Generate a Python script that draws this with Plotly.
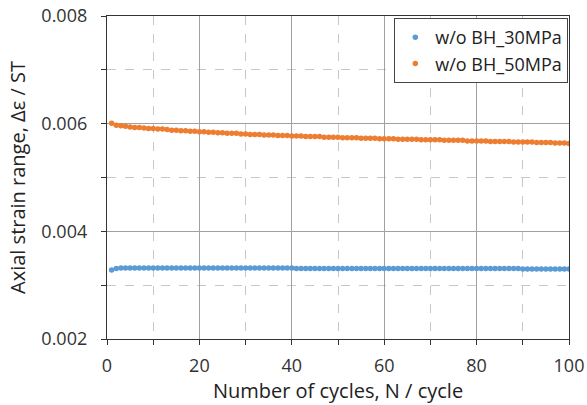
import plotly.graph_objects as go

cycles = list(range(1, 101))

strain_30mpa = [
    0.00328, 0.00331, 0.00332, 0.00332, 0.00332, 0.00332, 0.00332, 0.00332, 0.00332, 0.00332,
    0.00332, 0.00332, 0.00332, 0.00332, 0.00332, 0.00332, 0.00332, 0.00332, 0.00332, 0.00332,
    0.00332, 0.00332, 0.00332, 0.00332, 0.00332, 0.00332, 0.00332, 0.00332, 0.00332, 0.00332,
    0.00332, 0.00332, 0.00332, 0.00332, 0.00332, 0.00332, 0.00332, 0.00332, 0.00332, 0.00332,
    0.00331, 0.00331, 0.00331, 0.00331, 0.00331, 0.00331, 0.00331, 0.00331, 0.00331, 0.00331,
    0.00331, 0.00331, 0.00331, 0.00331, 0.00331, 0.00331, 0.00331, 0.00331, 0.00331, 0.00331,
    0.00331, 0.00331, 0.00331, 0.00331, 0.00331, 0.00331, 0.00331, 0.00331, 0.00331, 0.00331,
    0.00331, 0.00331, 0.00331, 0.00331, 0.00331, 0.00331, 0.00331, 0.00331, 0.00331, 0.00331,
    0.00331, 0.00331, 0.00331, 0.00331, 0.00331, 0.00331, 0.00331, 0.00331, 0.00331, 0.00330,
    0.00330, 0.00330, 0.00330, 0.00330, 0.00330, 0.00330, 0.00330, 0.00330, 0.00330, 0.00330,
]

strain_50mpa = [
    0.00601, 0.00597, 0.00596, 0.00595, 0.00594, 0.00593, 0.00593, 0.00592, 0.00591, 0.00591,
    0.00590, 0.00590, 0.00589, 0.00588, 0.00588, 0.00587, 0.00587, 0.00586, 0.00586, 0.00585,
    0.00585, 0.00584, 0.00584, 0.00583, 0.00583, 0.00582, 0.00582, 0.00582, 0.00581, 0.00581,
    0.00580, 0.00580, 0.00580, 0.00579, 0.00579, 0.00579, 0.00578, 0.00578, 0.00578, 0.00577,
    0.00577, 0.00577, 0.00576, 0.00576, 0.00576, 0.00576, 0.00575, 0.00575, 0.00575, 0.00575,
    0.00574, 0.00574, 0.00574, 0.00574, 0.00573, 0.00573, 0.00573, 0.00573, 0.00572, 0.00572,
    0.00572, 0.00572, 0.00571, 0.00571, 0.00571, 0.00571, 0.00571, 0.00570, 0.00570, 0.00570,
    0.00570, 0.00570, 0.00569, 0.00569, 0.00569, 0.00569, 0.00569, 0.00568, 0.00568, 0.00568,
    0.00568, 0.00568, 0.00567, 0.00567, 0.00567, 0.00567, 0.00567, 0.00566, 0.00566, 0.00566,
    0.00566, 0.00566, 0.00565, 0.00565, 0.00565, 0.00565, 0.00564, 0.00564, 0.00564, 0.00563,
]

series_names = ["w/o BH_30MPa", "w/o BH_50MPa"]
series_colors = ["#5B9BD5", "#ED7D31"]

fig = go.Figure()
for name, vals, col in zip(series_names, [strain_30mpa, strain_50mpa], series_colors):
    fig.add_trace(go.Scatter(
        x=cycles, y=vals, mode="markers", name=name,
        marker=dict(color=col, size=5.5, line=dict(width=0)),
    ))

font_family = "Open Sans, Noto Sans, sans-serif"

fig.update_layout(
    width=587, height=405,
    margin=dict(l=107, r=18, t=16, b=66),
    paper_bgcolor="white", plot_bgcolor="white",
    font=dict(family=font_family, size=18, color="#222"),
    legend=dict(
        x=0.9985, y=0.994, xanchor="right", yanchor="top",
        bgcolor="white", bordercolor="#444", borderwidth=1,
        font=dict(size=18, color="#222"),
        tracegroupgap=2,
    ),
    showlegend=True,
)

fig.update_xaxes(
    range=[0, 100], dtick=20, tick0=0, automargin=False, ticklabeloverflow="allow",
    showline=True, linecolor="#333", linewidth=1.3, mirror=True,
    ticks="outside", ticklen=5, tickcolor="#333",
    showgrid=True, gridcolor="#a0a0a0", gridwidth=1,
    zeroline=False,
    minor=dict(dtick=10, showgrid=True, gridcolor="#c8c8c8", griddash="dash",
               ticks="outside", ticklen=5, tickcolor="#333"),
    title=dict(text="Number of cycles, N / cycle", font=dict(size=20, color="#222"), standoff=0),
    tickfont=dict(size=18, color="#333"),
    ticklabelstandoff=5,
)
fig.update_yaxes(
    range=[0.002, 0.008], dtick=0.002, tick0=0.002, tickformat=".3f", automargin=False,
    ticklabeloverflow="allow",
    showline=True, linecolor="#333", linewidth=1.3, mirror=True,
    ticks="outside", ticklen=5, tickcolor="#333",
    showgrid=True, gridcolor="#a0a0a0", gridwidth=1,
    zeroline=False,
    minor=dict(dtick=0.001, showgrid=True, gridcolor="#c8c8c8", griddash="dash",
               ticks="outside", ticklen=5, tickcolor="#333"),
    title=dict(text="Axial strain range, Δε / ST", font=dict(size=20, color="#222"), standoff=10),
    tickfont=dict(size=18, color="#333"),
    ticklabelstandoff=10,
)

fig.write_html("out.html", config={"displayModeBar": False},
               post_script="document.body.style.margin='0px';")
